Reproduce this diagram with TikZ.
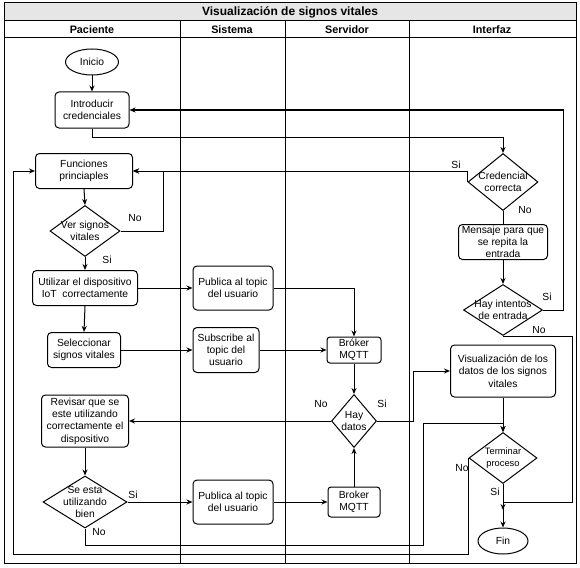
\documentclass[tikz,border=0pt]{standalone}
\usepackage{fontspec}
\setmainfont{Liberation Sans}
\usepackage{tikz}
\usetikzlibrary{arrows, arrows.meta, shapes, shapes.geometric, positioning, calc}
\definecolor{lanegray}{RGB}{230, 230, 230}

\tikzset{
	txt/.style={font=\fontsize{10.3}{12.3}\selectfont},
	proc/.style={draw, txt, rounded corners=4pt, align=center, inner sep=1pt},
	term/.style={draw, txt, ellipse, inner sep=0pt},
	deci/.style={draw, txt, diamond, inner sep=-4pt, align=center},
	lbl/.style={txt, inner sep=0pt},
	lane/.style={font=\bfseries\fontsize{10.8}{12}\selectfont},
	flow/.style={-{Stealth[length=6pt,width=5pt]}},
}

\begin{document}
\begin{tikzpicture}[x=1pt, y=-1pt, line width=1pt]
	\useasboundingbox (0,0) rectangle (580,567);
	% swimlanes
	\path[draw,fill=lanegray] (4,3) rectangle (576,21);
	\node (titulo) at (290,12) [font=\bfseries\fontsize{12}{13}\selectfont] {Visualización de signos vitales};
	\draw (4,21) rectangle (576,563);
	\draw (4,38) -- (576,38);
	\foreach \x in {180,285,409} \draw (\x,21) -- (\x,563);
	\node (hpac) at (92,30) [lane] {Paciente};
	\node (hsis) at (232,30) [lane] {Sistema};
	\node (hser) at (347,30) [lane] {Servidor};
	\node (hint) at (492,30) [lane] {Interfaz};

	% Paciente
	\node (inicio) at (92,62) [term, minimum width=53pt, minimum height=26pt] {Inicio};
	\node (intro) at (92,110) [proc, minimum width=74pt, minimum height=36pt] {Introducir\\credenciales};
	\node (func) at (84,171) [proc, minimum width=97pt, minimum height=35pt] {Funciones\\princiaples};
	\node (ver) at (85,231) [deci, minimum width=70pt, minimum height=51pt, aspect=1.37] {Ver signos\\vitales};
	\node (util) at (85,288) [proc, minimum width=105pt, minimum height=35pt] {Utilizar el dispositivo\\IoT~ correctamente};
	\node (selec) at (84,350) [proc, minimum width=73pt, minimum height=35pt] {Seleccionar\\signos vitales};
	\node (revisar) at (85,421) [proc, minimum width=87pt, minimum height=52pt] {Revisar que se\\este utilizando\\correctamente el\\dispositivo};
	\node (seesta) at (85,502) [deci, minimum width=84pt, minimum height=52pt, aspect=1.6] {Se esta\\utilizando\\bien};

	% Sistema
	\node (pub1) at (233,288) [proc, minimum width=80pt, minimum height=44pt] {Publica al topic\\del usuario};
	\node (subs) at (226,350) [proc, minimum width=66pt, minimum height=45pt] {Subscribe al\\topic del\\usuario};
	\node (pub2) at (233,502) [proc, minimum width=80pt, minimum height=44pt] {Publica al topic\\del usuario};

	% Servidor
	\node (brok1) at (354,350) [proc, rounded corners=3pt, minimum width=54pt, minimum height=26pt] {Bróker\\MQTT};
	\node (datos) at (354,421) [deci, minimum width=45pt, minimum height=53pt, aspect=0.85] {Hay\\datos};
	\node (brok2) at (354,502) [proc, rounded corners=3pt, minimum width=52pt, minimum height=30pt] {Broker\\MQTT};

	% Interfaz
	\node (cred) at (503,182) [deci, minimum width=70pt, minimum height=57pt, aspect=1.23] {Credencial\\correcta};
	\node (mensaje) at (503,242) [proc, minimum width=89pt, minimum height=35pt] {Mensaje para que\\se repita la\\entrada};
	\node (intentos) at (503,310) [deci, minimum width=79pt, minimum height=51pt, aspect=1.55] {Hay intentos\\de entrada};
	\node (visual) at (503,371) [proc, minimum width=105pt, minimum height=52pt] {Visualización de los\\datos de los signos\\vitales};
	\node (termina) at (503,458) [deci, font=\fontsize{9.3}{11.5}\selectfont, minimum width=68pt, minimum height=51pt, aspect=1.33] {Terminar\\proceso};
	\node (fin) at (503,541) [term, minimum width=50pt, minimum height=26pt] {Fin};

	% bend points
	\coordinate (jn) at (503,502);
	\coordinate (lpA) at (13,554);
	\coordinate (lpB) at (423,545);

	% connectors
	\path[draw,flow] (inicio.south) -- (intro.north);
	\path[draw,flow] (intro.south) -- ++(0,9) -| (cred.north);
	\path[draw,flow] (cred.west) |- (func.east);
	\path[draw] (cred.south) -- (mensaje.north);
	\path[draw,flow] (mensaje.south) -- (intentos.north);
	\path[draw,flow] (intentos.east) -- ++(20,0) |- (intro.east);
	\path[draw,flow] (intentos.south) -- ++(69,0) |- (jn) -- ++(0,8);
	\path[draw,flow] (func.south) -- (ver.north);
	\path[draw,flow] (ver.east) -- ++(43,0) |- (func.east);
	\path[draw,flow] (ver.south) -- (util.north);
	\path[draw,flow] (util.south) -- (selec.north);
	\path[draw,flow] (util.east) -- (pub1.west);
	\path[draw,flow] (selec.east) -- (subs.west);
	\path[draw,flow] (pub1.east) -| (brok1.north);
	\path[draw,flow] (subs.east) -- (brok1.west);
	\path[draw,flow] (brok1.south) -- (datos.north);
	\path[draw,flow] (datos.west) -- (revisar.east);
	\path[draw,flow] (datos.east) -- ++(36,0) |- (visual.west);
	\path[draw,flow] (revisar.south) -- (seesta.north);
	\path[draw,flow] (seesta.east) -- (pub2.west);
	\path[draw,flow] (pub2.east) -- (brok2.west);
	\path[draw,flow] (brok2.north) -- (datos.south);
	\path[draw,flow] (visual.south) -- (termina.north);
	\path[draw,flow] (seesta.south) |- (lpB) -- ++(0,-122) -| (termina.north);
	\path[draw,flow] (termina.west) |- (lpA) |- (func.west);
	\path[draw,flow] (termina.south) -- (fin.north);

	% labels
	\node (noVer) at (135,218) [lbl] {No};
	\node (siVer) at (107,260) [lbl] {Si};
	\node (siCred) at (456,165) [lbl] {Si};
	\node (noCred) at (525,210) [lbl] {No};
	\node (siInt) at (547,297) [lbl] {Si};
	\node (noInt) at (539,330) [lbl] {No};
	\node (noDat) at (321,404) [lbl] {No};
	\node (siDat) at (382,404) [lbl] {Si};
	\node (siEsta) at (133,495) [lbl] {Si};
	\node (noEsta) at (99,532) [lbl] {No};
	\node (noTer) at (462,468) [lbl] {No};
	\node (siTer) at (495,492) [lbl] {Si};
\end{tikzpicture}
\end{document}
